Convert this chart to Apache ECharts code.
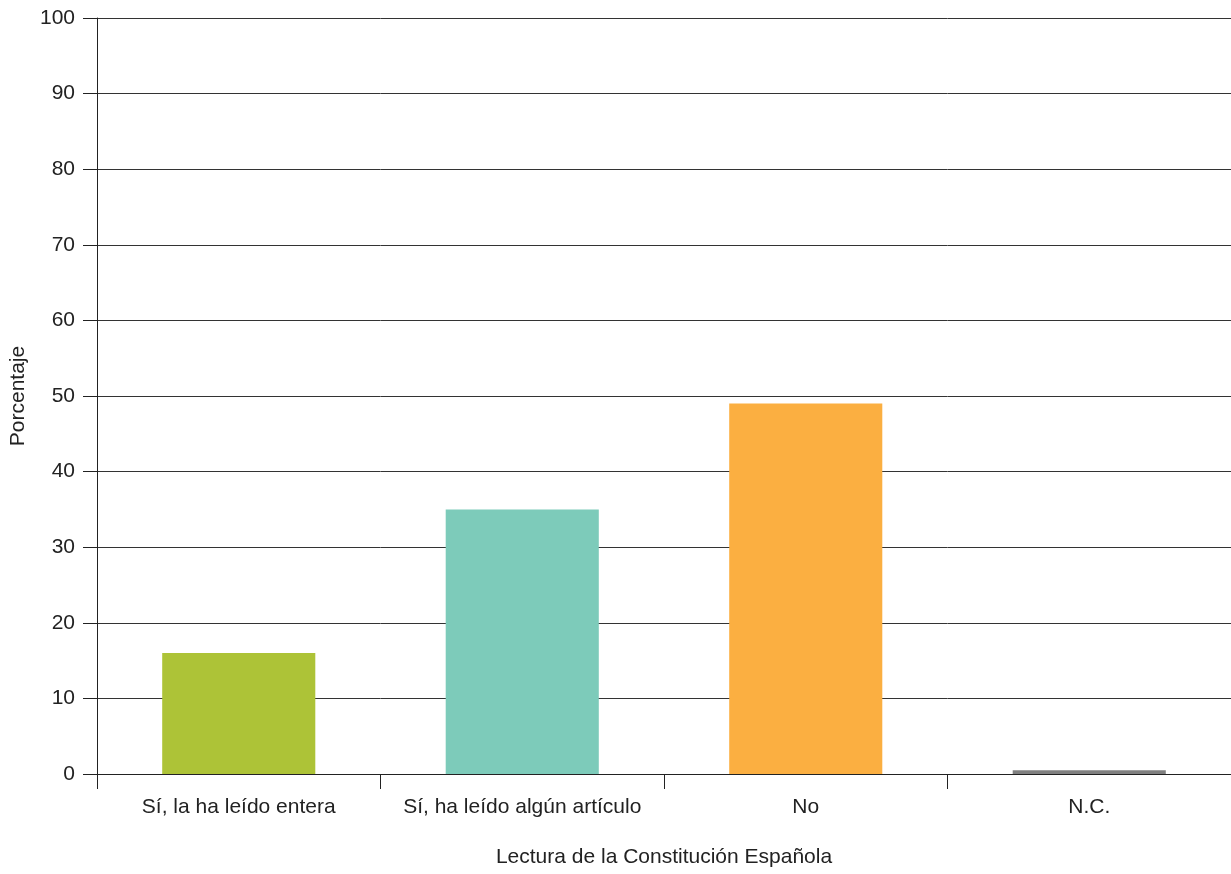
<!DOCTYPE html>
<html><head><meta charset="utf-8">
<script src="https://cdn.jsdelivr.net/npm/echarts@6/dist/echarts.min.js"></script>
<style>html,body{margin:0;padding:0;background:#fff}#c{width:1231px;height:874px}</style>
</head><body><div id="c"></div>
<script>
var categories = ["Sí, la ha leído entera", "Sí, ha leído algún artículo", "No", "N.C."];
var values = [16, 35, 49, 0.5];
var colors = ["#adc337", "#7dcbba", "#fbaf41", "#808080"];
var yTicks = [0, 10, 20, 30, 40, 50, 60, 70, 80, 90, 100];

var chart = echarts.init(document.getElementById('c'));
var font = 'Liberation Sans, Arial, sans-serif';
chart.setOption({
  animation: false,
  grid: {left: 96.5, right: 0, top: 18, bottom: 100, containLabel: false},
  xAxis: {
    type: 'category', data: categories,
    name: 'Lectura de la Constitución Española', nameLocation: 'middle', nameGap: 73,
    nameTextStyle: {fontFamily: font, fontSize: 21, color: '#222'},
    axisLine: {lineStyle: {color: '#222', width: 1}},
    axisTick: {show: true, interval: 0, length: 15, alignWithLabel: false, lineStyle: {color: '#222'}},
    axisLabel: {interval: 0, hideOverlap: false, fontFamily: font, fontSize: 21, color: '#222', margin: 23}
  },
  yAxis: {
    type: 'value', min: yTicks[0], max: yTicks[yTicks.length - 1], interval: 10,
    name: 'Porcentaje', nameLocation: 'middle', nameGap: 68, nameRotate: 90,
    nameTextStyle: {fontFamily: font, fontSize: 21, color: '#222'},
    axisLine: {show: true, lineStyle: {color: '#222', width: 1}},
    axisTick: {show: true, length: 14, lineStyle: {color: '#222'}},
    axisLabel: {fontFamily: font, fontSize: 21, color: '#222', margin: 22},
    splitLine: {show: true, lineStyle: {color: '#333', width: 1}}
  },
  series: [{
    type: 'bar', barWidth: '54%',
    data: values.map(function (v, i) { return {value: v, itemStyle: {color: colors[i]}}; })
  }]
});
</script></body></html>
